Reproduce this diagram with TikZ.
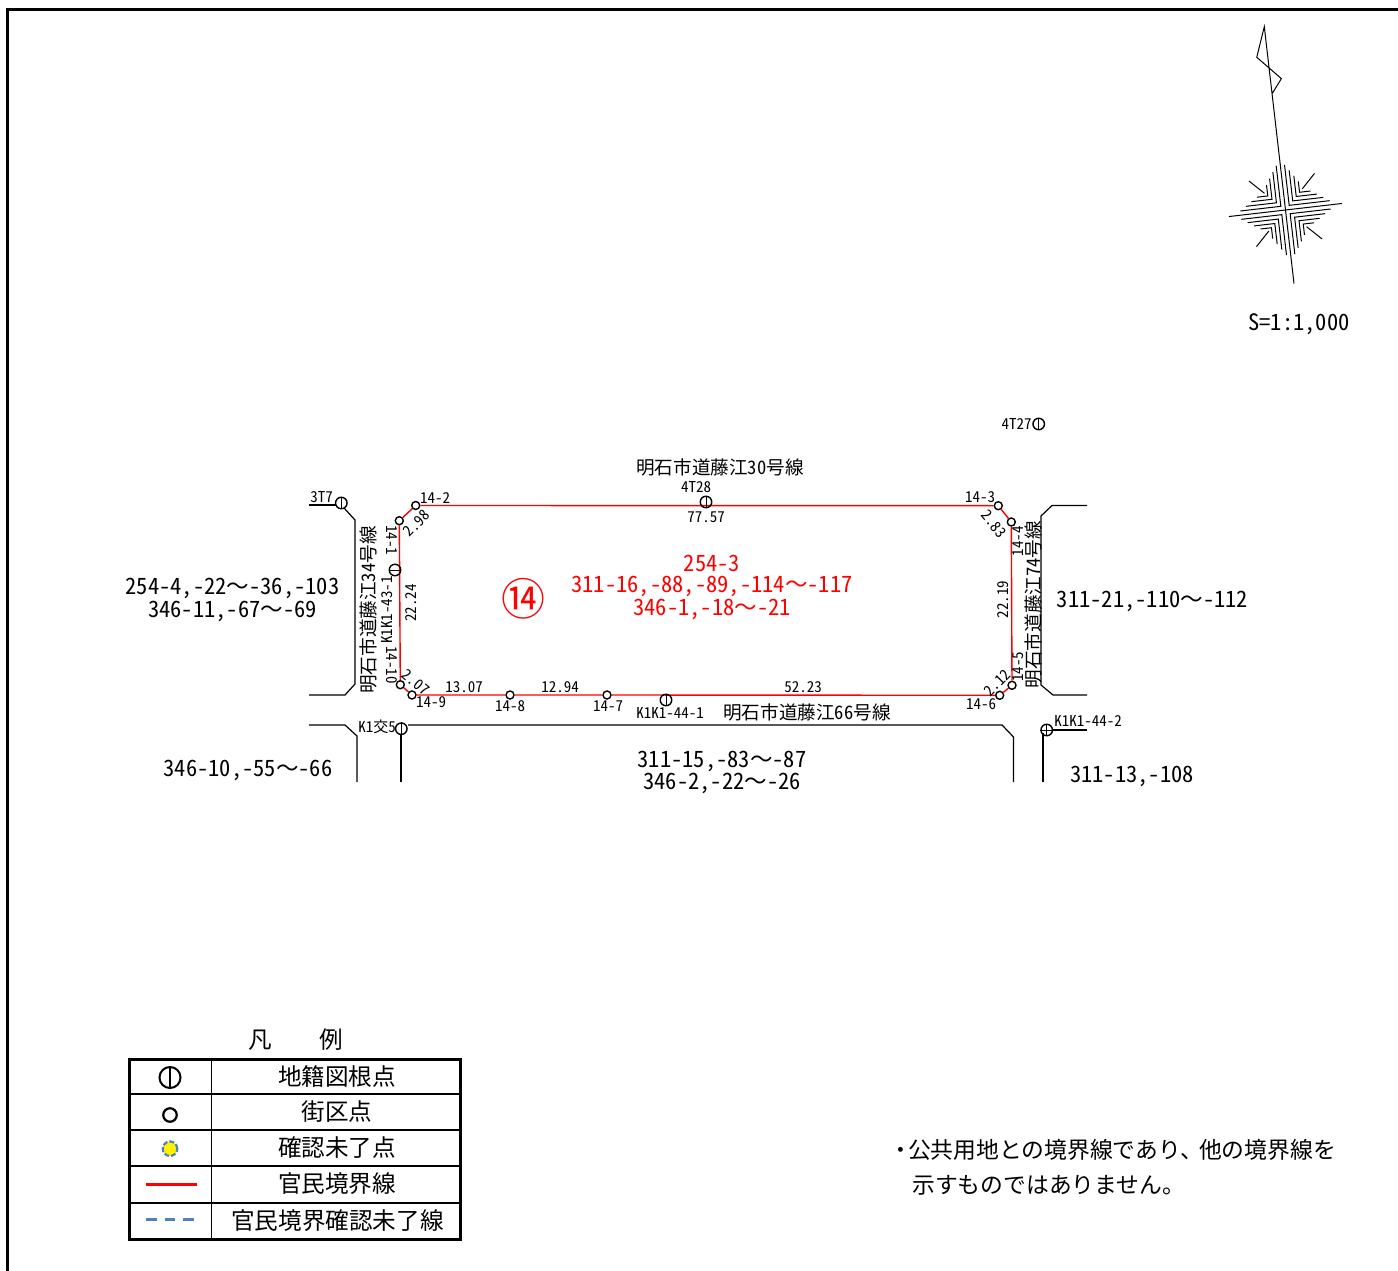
\documentclass[tikz,border=0pt]{standalone}
\usepackage{fontspec}
\setmainfont{Noto Sans CJK JP}[RawFeature=+hwid]
\newfontfamily\notefont{Noto Sans CJK JP}
\newcommand{\kara}{{\notefont ～}}
\begin{document}
\begin{tikzpicture}[x=1pt,y=-1pt,
		pointnode/.style={draw, circle, inner sep=0pt, minimum size=8pt, line width=1.4pt},
		gridnode/.style={draw, circle, inner sep=0pt, minimum size=11.5pt, line width=1.4pt},
		boundary/.style={color=red, line width=1.4pt},
		road/.style={line width=1.2pt},
		tinylabel/.style={inner sep=0pt, font=\fontsize{15}{15}\selectfont},
		roadlabel/.style={inner sep=0pt, font=\fontsize{18.6}{18.6}\selectfont},
		lotlabel/.style={inner sep=0pt, font=\fontsize{22.5}{22.5}\selectfont},
		legendtext/.style={inner sep=0pt, font=\fontsize{23.6}{23.6}\selectfont}
	]
	\useasboundingbox (0,0) rectangle (1398,1271);

	\draw[line width=3pt] (7.5,1271) -- (7.5,10) -- (1398,10);

	% north arrow
	\begin{scope}[shift={(1285.5,210)}, rotate=6.6, line width=1pt]
		\draw (0,74) -- (0,-184.6) -- (-11,-155) -- (11,-131) -- (0,-117);
		\draw (-57,0) -- (57,0);
		\draw (4.2,-45) -- (4.2,-4.2) -- (45,-4.2);
		\draw (8.2,-39) -- (8.2,-8.2) -- (39,-8.2);
		\draw (12.2,-33) -- (12.2,-12.2) -- (33,-12.2);
		\draw (16,-27) -- (16,-16) -- (27,-16);
		\draw (-4.2,-45) -- (-4.2,-4.2) -- (-45,-4.2);
		\draw (-8.2,-39) -- (-8.2,-8.2) -- (-39,-8.2);
		\draw (-12.2,-33) -- (-12.2,-12.2) -- (-33,-12.2);
		\draw (-16,-27) -- (-16,-16) -- (-27,-16);
		\draw (4.2,45) -- (4.2,4.2) -- (45,4.2);
		\draw (8.2,39) -- (8.2,8.2) -- (39,8.2);
		\draw (12.2,33) -- (12.2,12.2) -- (33,12.2);
		\draw (16,27) -- (16,16) -- (27,16);
		\draw (-4.2,45) -- (-4.2,4.2) -- (-45,4.2);
		\draw (-8.2,39) -- (-8.2,8.2) -- (-39,8.2);
		\draw (-12.2,33) -- (-12.2,12.2) -- (-33,12.2);
		\draw (-16,27) -- (-16,16) -- (-27,16);
		\draw (19,-19) -- (33,-33);
		\draw (-19,-19) -- (-33,-33);
		\draw (19,19) -- (33,33);
		\draw (-19,19) -- (-33,33);
	\end{scope}
	\node[lotlabel] (scale) at (1299,324) {S=1:1,000};

	% roads
	\draw[road] (309,505) -- (336,505);
	\draw[road] (344,508) -- (355,520) -- (355,684) -- (345,695) -- (309,695);
	\draw[road] (309,725) -- (345,725) -- (357,736) -- (357,782);
	\draw[road] (401,782) -- (401,735);
	\draw[road] (408,725) -- (1002,725) -- (1013.5,737) -- (1013.5,782);
	\draw[road] (1087,505.5) -- (1052,505.5) -- (1041,516) -- (1041,685) -- (1053,695) -- (1087,695);
	\draw[road] (1043,733) -- (1043,782);

	% points
	\node[pointnode] (p142) at (415.7,505.5) {};
	\node[pointnode] (p141) at (399.3,520.7) {};
	\node[pointnode] (p1410) at (400.3,684.7) {};
	\node[pointnode] (p149) at (412,695) {};
	\node[pointnode] (p148) at (510,695) {};
	\node[pointnode] (p147) at (607,695) {};
	\node[pointnode] (p146) at (999.7,695.3) {};
	\node[pointnode] (p145) at (1012,685.3) {};
	\node[pointnode] (p144) at (1011.3,522) {};
	\node[pointnode] (p143) at (998.3,505.7) {};
	\draw[boundary] (p142) -- (p143) -- (p144) -- (p145) -- (p146) -- (p147) -- (p148) -- (p149) -- (p1410) -- (p141) -- (p142);

	\node[gridnode] (g3t7) at (341.3,503) {};
	\node[gridnode] (g4t28) at (706,502) {};
	\node[gridnode] (g4t27) at (1038.7,424) {};
	\node[gridnode] (gk143) at (395,570) {};
	\node[gridnode] (gk144) at (666,700) {};
	\node[gridnode] (gk5) at (401.3,728.7) {};
	\node[gridnode] (gk244) at (1046.7,730) {};
	\draw[line width=1pt] (g3t7.north) -- (g3t7.south);
	\draw[line width=1pt] (g4t28.north) -- (g4t28.south);
	\draw[line width=1pt] (g4t27.north) -- (g4t27.south);
	\draw[line width=1pt] (gk143.west) -- (gk143.east);
	\draw[line width=1pt] (gk144.north) -- (gk144.south);
	\draw[line width=1pt] (gk5.north) -- (gk5.south);
	\draw[line width=1pt] (gk244.north) -- (gk244.south);
	\draw[line width=1pt] (gk244.west) -- (gk244.east);
	\coordinate (gk244end) at (1087,730);
	\draw[road] (gk244) -- (gk244end);

	% small labels
	\node[tinylabel] (n142) at (435,498.5) {14-2};
	\node[tinylabel, rotate=-90] (n141) at (391.7,540) {14-1};
	\node[tinylabel, rotate=90] (n143) at (387,610) {K1K1-43-1};
	\node[tinylabel, rotate=-90] (n1410) at (391.7,665) {14-10};
	\node[tinylabel, rotate=90] (d2224) at (410.7,603) {22.24};
	\node[tinylabel, rotate=45] (d298) at (416.7,523.3) {2.98};
	\node[tinylabel, rotate=-40] (d207) at (415.7,682.3) {2.07};
	\node[tinylabel] (d1307) at (464,686.7) {13.07};
	\node[tinylabel] (n149) at (431,702.3) {14-9};
	\node[tinylabel] (n3t7) at (321.7,496.7) {3T7};
	\node[tinylabel] (nk5) at (377,727.3) {K1交5};
	\node[tinylabel] (n4t28) at (696,487.5) {4T28};
	\node[tinylabel] (d7757) at (706,517.5) {77.57};
	\node[tinylabel] (n148) at (510,706.5) {14-8};
	\node[tinylabel] (d1294) at (560,687.5) {12.94};
	\node[tinylabel] (n147) at (608,706.5) {14-7};
	\node[tinylabel] (nk144) at (670,713) {K1K1-44-1};
	\node[tinylabel] (d5223) at (803,687.5) {52.23};
	\node[tinylabel] (n146) at (981,704) {14-6};
	\node[tinylabel] (n143b) at (980,497.3) {14-3};
	\node[tinylabel, rotate=-50] (d283) at (994,524) {2.83};
	\node[tinylabel, rotate=90] (d2219) at (1002.7,599.3) {22.19};
	\node[tinylabel, rotate=90] (n144) at (1018.3,541) {14-4};
	\node[tinylabel, rotate=90] (n145) at (1018.3,666.7) {14-5};
	\node[tinylabel, rotate=45] (d212) at (997.3,682.7) {2.12};
	\node[tinylabel] (n4t27) at (1016.7,424) {4T27};
	\node[tinylabel] (nk244) at (1088,720.5) {K1K1-44-2};

	% road names
	\node[roadlabel] (r30) at (720,467.5) {明石市道藤江30号線};
	\node[roadlabel, rotate=90] (r34) at (368.3,610) {明石市道藤江34号線};
	\node[roadlabel] (r66) at (807,712.5) {明石市道藤江66号線};
	\node[roadlabel, rotate=90] (r74) at (1033,604.5) {明石市道藤江74号線};

	% lots
	\node[lotlabel] (l1) at (232.5,588) {254-4,-22\kara-36,-103};
	\node[lotlabel] (l2) at (232.5,611) {346-11,-67\kara-69};
	\node[lotlabel] (l3) at (248,770) {346-10,-55\kara-66};
	\node[lotlabel] (l4) at (722,761) {311-15,-83\kara-87};
	\node[lotlabel] (l5) at (722,783) {346-2,-22\kara-26};
	\node[lotlabel] (l6) at (1132,776) {311-13,-108};
	\node[lotlabel] (l7) at (1152.5,601) {311-21,-110\kara-112};
	\node[lotlabel, color=red] (l8) at (712,563) {254-3};
	\node[lotlabel, color=red] (l9) at (712,586) {311-16,-88,-89,-114\kara-117};
	\node[lotlabel, color=red] (l10) at (712,609) {346-1,-18\kara-21};
	\node[inner sep=0pt, color=red, font=\notefont\fontsize{44}{44}\selectfont] (lotno) at (523,599) {⑭};

	% legend
	\node[legendtext] (legendtitle) at (296,1040) {\notefont 凡　　例};
	\draw[line width=3pt] (129,1059) rectangle (460.5,1239);
	\draw[line width=1.2pt] (211.3,1059) -- (211.3,1239);
	\draw[line width=1.2pt] (129,1094) -- (460.5,1094);
	\draw[line width=1.2pt] (129,1130) -- (460.5,1130);
	\draw[line width=1.2pt] (129,1166) -- (460.5,1166);
	\draw[line width=1.2pt] (129,1203) -- (460.5,1203);
	\node[draw, circle, inner sep=0pt, minimum size=21pt, line width=2pt] (keygrid) at (170,1077.5) {};
	\draw[line width=1.4pt] (keygrid.north) -- (keygrid.south);
	\node[draw, circle, inner sep=0pt, minimum size=13.5pt, line width=2.2pt] (keypoint) at (170,1115) {};
	\node[draw={rgb,255:red,79;green,129;blue,189}, dash pattern=on 5pt off 2pt, fill=yellow, circle, inner sep=0pt, minimum size=14.5pt, line width=2.2pt] (keycheck) at (170,1148.7) {};
	\coordinate (keyreda) at (146,1184);
	\coordinate (keyredb) at (197,1184);
	\draw[color=red, line width=3pt] (keyreda) -- (keyredb);
	\coordinate (keybluea) at (146,1219.5);
	\coordinate (keyblueb) at (195,1219.5);
	\draw[color={rgb,255:red,79;green,129;blue,189}, line width=2.5pt, dash pattern=on 10.7pt off 8pt] (keybluea) -- (keyblueb);
	\node[legendtext] (t1) at (337,1076) {地籍図根点};
	\node[legendtext] (t2) at (337,1112) {街区点};
	\node[legendtext] (t3) at (337,1148) {確認未了点};
	\node[legendtext] (t4) at (337,1184) {官民境界線};
	\node[legendtext] (t5) at (337.5,1221) {官民境界確認未了線};

	% note
	\node[inner sep=0pt, anchor=west, font=\notefont\fontsize{22.8}{22.8}\selectfont] (note1) at (889,1150) {・\kern-4pt 公共用地との境界線であり、\kern-4pt 他の境界線を};
	\node[inner sep=0pt, anchor=west, font=\notefont\fontsize{22.8}{22.8}\selectfont] (note2) at (912,1185) {示すものではありません。};
\end{tikzpicture}
\end{document}
